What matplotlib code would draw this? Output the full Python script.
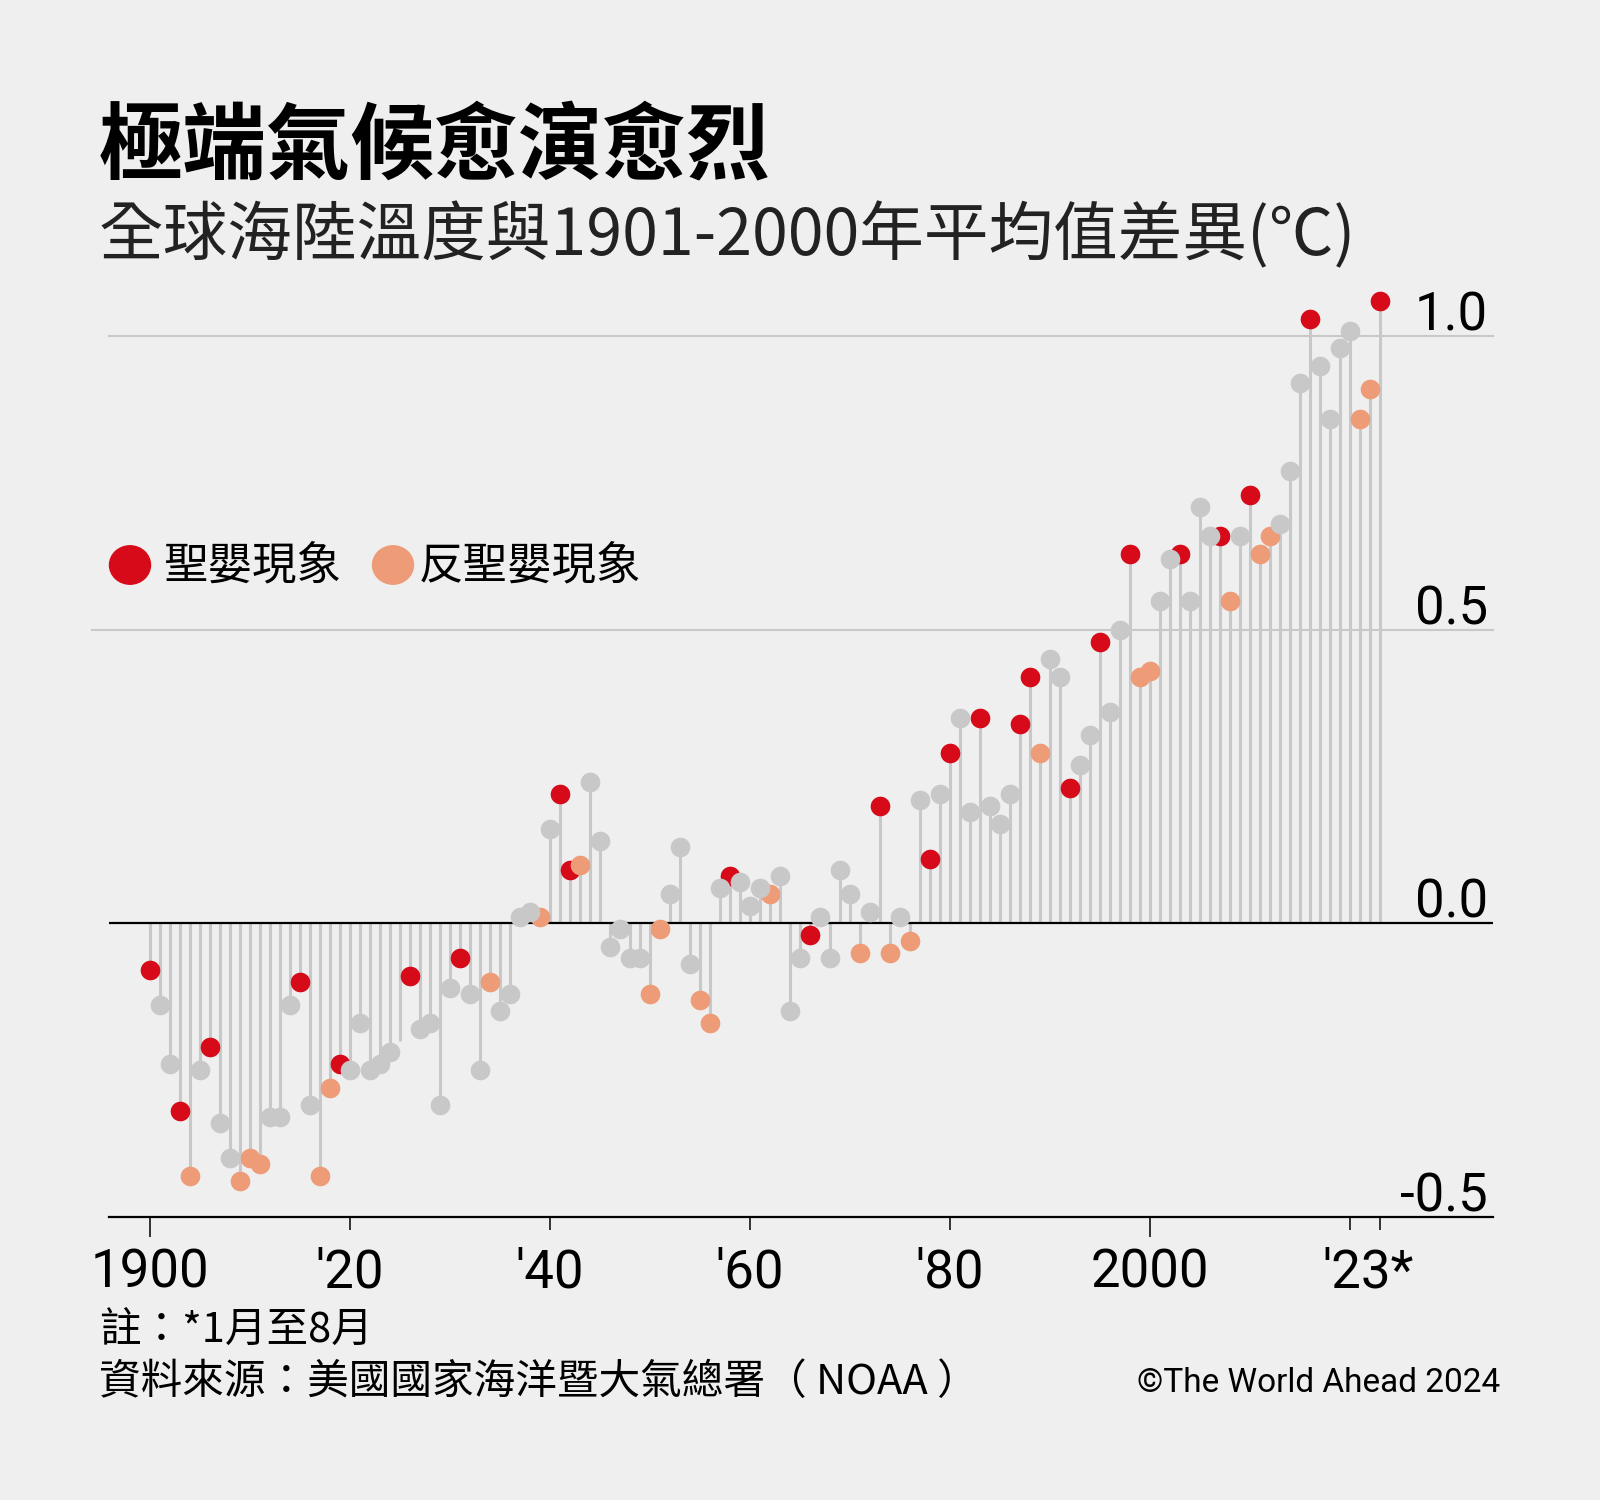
import numpy as np
import matplotlib
matplotlib.use("Agg")
import matplotlib.pyplot as plt

# 全球海陸溫度距平（相對1901-2000年平均，℃）
years = list(range(1900, 2024))
anomaly = [
    -0.08, -0.14, -0.24, -0.32, -0.43, -0.25, -0.21, -0.34, -0.40, -0.44,
    -0.40, -0.41, -0.33, -0.33, -0.14, -0.10, -0.31, -0.43, -0.28, -0.24,
    -0.25, -0.17, -0.25, -0.24, -0.22, -0.20, -0.09, -0.18, -0.17, -0.31,
    -0.11, -0.06, -0.12, -0.25, -0.10, -0.15, -0.12, 0.01, 0.02, 0.01,
    0.16, 0.22, 0.09, 0.10, 0.24, 0.14, -0.04, -0.01, -0.06, -0.06,
    -0.12, -0.01, 0.05, 0.13, -0.07, -0.13, -0.17, 0.06, 0.08, 0.07,
    0.03, 0.06, 0.05, 0.08, -0.15, -0.06, -0.02, 0.01, -0.06, 0.09,
    0.05, -0.05, 0.02, 0.20, -0.05, 0.01, -0.03, 0.21, 0.11, 0.22,
    0.29, 0.35, 0.19, 0.35, 0.20, 0.17, 0.22, 0.34, 0.42, 0.29,
    0.45, 0.42, 0.23, 0.27, 0.32, 0.48, 0.36, 0.50, 0.63, 0.42,
    0.43, 0.55, 0.62, 0.63, 0.55, 0.71, 0.66, 0.66, 0.55, 0.66,
    0.73, 0.63, 0.66, 0.68, 0.77, 0.92, 1.03, 0.95, 0.86, 0.98,
    1.01, 0.86, 0.91, 1.06,
]
# e = 聖嬰, l = 反聖嬰, n = 其他, "-" = 原圖無圓點
enso = (
    "e n n e l n e n n l "
    "l l n n n e n l l e "
    "n n n n n - e n n n "
    "n e n n l n n n n l "
    "n e e l n n n n n n "
    "l l n n n l l n e n "
    "n n l n n n e n n n "
    "n l n e l n l n e n "
    "e n n e n n n e e l "
    "n n e n n e n n e l "
    "l n n e n n n e l n "
    "e l l n n n e n n n "
    "n l l e"
).split()

xtick_major = [1900, 2000]
xtick_minor = [1920, 1940, 1960, 1980, 2020, 2023]
xlabels = ["1900", "'20", "'40", "'60", "'80", "2000", "'23*"]
xlabel_pos = [1900, 1920, 1940, 1960, 1980, 2000, 2021.8]
yticks = [-0.5, 0.0, 0.5, 1.0]

bg = "#efefef"
grey = "#c8c8c8"
red = "#d70a19"
salmon = "#ee9b78"
colors = {"e": red, "l": salmon, "n": grey}

fig = plt.figure(figsize=(16, 15), dpi=100, facecolor=bg)
W, H = 1600, 1500

ax = fig.add_axes([109 / W, 1 - 1216.7 / H, 1384 / W, (1216.7 - 266) / H])
ax.set_facecolor(bg)
ax.set_xlim(1895.9, 2034.3)
ax.set_ylim(-0.5, 1.12)

# grid lines
ax.plot([-0.0123, 1], [0.5, 0.5], transform=ax.get_yaxis_transform(),
        color=grey, lw=1.5, clip_on=False, zorder=1)
ax.plot([0, 1], [1.0, 1.0], transform=ax.get_yaxis_transform(),
        color=grey, lw=1.5, clip_on=False, zorder=1)

# stems
ax.vlines(years, 0, anomaly, color=grey, lw=2.2, zorder=2)
ax.axhline(0, color="black", lw=1.6, zorder=3)

yrs = np.array(years)
vals = np.array(anomaly)
for key, c in colors.items():
    m = np.array([e == key for e in enso])
    ax.scatter(yrs[m], vals[m], s=200, color=c, lw=0, zorder=4, clip_on=False)

for s in ["top", "left", "right"]:
    ax.spines[s].set_visible(False)
ax.spines["bottom"].set_color("black")
ax.spines["bottom"].set_linewidth(1.6)
ax.set_yticks([])
ax.set_xticks(xtick_major)
ax.set_xticks(xtick_minor, minor=True)
ax.tick_params(axis="x", which="major", length=14.4, width=1.1, color="black", labelbottom=False)
ax.tick_params(axis="x", which="minor", length=9.4, width=1.1, color="black")

for lab, x in zip(xlabels, xlabel_pos):
    ax.text(x, -0.0745, lab, transform=ax.get_xaxis_transform(), ha="center",
            va="baseline", fontsize=38, family="Roboto", color="black")

for v in yticks:
    ax.annotate(f"{v:.1f}", (0.9964, v), xycoords=ax.get_yaxis_transform(),
                xytext=(0, 4), textcoords="offset points", ha="right",
                va="baseline", fontsize=38, family="Roboto", color="black")

# title / subtitle
fig.text(99 / W, 1 - 148 / H, "極端氣候愈演愈烈", fontsize=60.5, fontweight="bold",
         family=["Noto Sans CJK TC"], va="center", ha="left", color="black")
fig.text(99 / W, 1 - 237 / H, "全球海陸溫度與1901-2000年平均值差異(℃)", fontsize=46.5,
         fontweight="light", family=["Noto Sans CJK TC"], va="center", ha="left",
         color="#222222")

# legend
fig.patches.append(plt.Circle((130 / W, 1 - 565 / H), 20.5 / W, transform=fig.transFigure,
                              color=red, figure=fig))
fig.text(163 / W, 1 - 565 / H, "聖嬰現象", fontsize=32, family=["Noto Sans CJK TC"],
         va="center", ha="left")
fig.patches.append(plt.Circle((393 / W, 1 - 565 / H), 20.5 / W, transform=fig.transFigure,
                              color=salmon, figure=fig))
fig.text(419 / W, 1 - 565 / H, "反聖嬰現象", fontsize=32, family=["Noto Sans CJK TC"],
         va="center", ha="left")

# footer
foot_font = ["Noto Sans CJK TC"]
fig.text(99 / W, 1 - 1330 / H, "註：*1月至8月", fontsize=30, family=foot_font,
         va="center", ha="left")
fig.text(99 / W, 1 - 1383 / H, "資料來源：美國國家海洋暨大氣總署（ NOAA ）", fontsize=30,
         family=foot_font, va="center", ha="left")
fig.text(1500 / W, 1 - 1383 / H, "©The World Ahead 2024", fontsize=24,
         family=["Roboto", "DejaVu Sans"], va="center", ha="right")

fig.savefig("out.png", dpi=100, facecolor=bg)
